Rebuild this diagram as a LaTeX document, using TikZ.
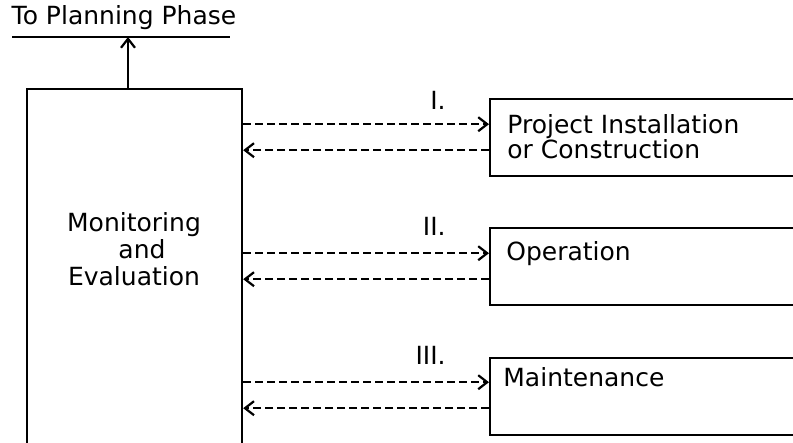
\documentclass[tikz,border=0pt]{standalone}
\usepackage{fontspec}
\setmainfont{DejaVu Sans}
\usetikzlibrary{arrows.meta,positioning}
\tikzset{
  mainbox/.style={draw,line width=1.2pt,minimum width=107.5pt,minimum height=190pt,inner sep=0pt},
  phasebox/.style={draw,line width=1.2pt,minimum width=161pt,minimum height=38.5pt,inner sep=0pt,anchor=north west},
  boxtext/.style={font=\fontsize{12.5}{12.5}\selectfont,align=left,inner sep=0pt},
  stageLabel/.style={font=\fontsize{12.5}{14}\selectfont,anchor=east,inner sep=0pt},
  linkArrow/.style={-{Straight Barb[length=4.5pt,width=7pt,line width=1.1pt]},line width=1.1pt,dash pattern=on 4pt off 2pt},
  upArrow/.style={-{Straight Barb[length=4.5pt,width=7pt]},line width=1.1pt}
}

\begin{document}
\begin{tikzpicture}[x=0.5pt,y=-0.5pt]
  \path[use as bounding box,clip] (0,0) rectangle (793,443);
  % heading line to planning
  \node[boxtext] (plantext) at (124,18) {To Planning Phase};
  \coordinate (planL) at (12,37);
  \coordinate (planR) at (230,37);
  \coordinate (planTip) at (128,37);
  \draw[line width=1.2pt] (planL) -- (planR);
  \node[mainbox,anchor=north] (mon) at (134.5,88) {};
  \node[boxtext,align=center,font=\fontsize{12.5}{13.5}\selectfont] (montext) at (134,249)
    {Monitoring\\\hspace*{8pt}and\\Evaluation};
  \draw[upArrow] (planTip |- mon.north) -- (planTip);
  % phases
  \node[phasebox] (p1) at (489,98) {};
  \node[boxtext,below right=8pt and 9pt of p1.north west,anchor=north west] (p1text)
    {Project Installation\\or Construction};
  \node[phasebox] (p2) at (489,227) {};
  \node[boxtext,below right=7pt and 8.5pt of p2.north west,anchor=north west] (p2text) {Operation};
  \node[phasebox] (p3) at (489,357) {};
  \node[boxtext,below right=5pt and 7pt of p3.north west,anchor=north west] (p3text) {Maintenance};
  \node[stageLabel] (s1) at (446,100) {I.};
  \node[stageLabel] (s2) at (446,226) {II.};
  \node[stageLabel] (s3) at (446,355) {III.};
  % links
  \coordinate (p1r) at ([yshift=6.75pt]p1.west);
  \coordinate (p1l) at ([yshift=-6.25pt]p1.west);
  \coordinate (p2r) at ([yshift=6.75pt]p2.west);
  \coordinate (p2l) at ([yshift=-6.25pt]p2.west);
  \coordinate (p3r) at ([yshift=7.25pt]p3.west);
  \coordinate (p3l) at ([yshift=-5.75pt]p3.west);
  \draw[linkArrow] (p1r -| mon.east) -- (p1r);
  \draw[linkArrow] (p1l) -- (p1l -| mon.east);
  \draw[linkArrow] (p2r -| mon.east) -- (p2r);
  \draw[linkArrow] (p2l) -- (p2l -| mon.east);
  \draw[linkArrow] (p3r -| mon.east) -- (p3r);
  \draw[linkArrow] (p3l) -- (p3l -| mon.east);
\end{tikzpicture}
\end{document}
